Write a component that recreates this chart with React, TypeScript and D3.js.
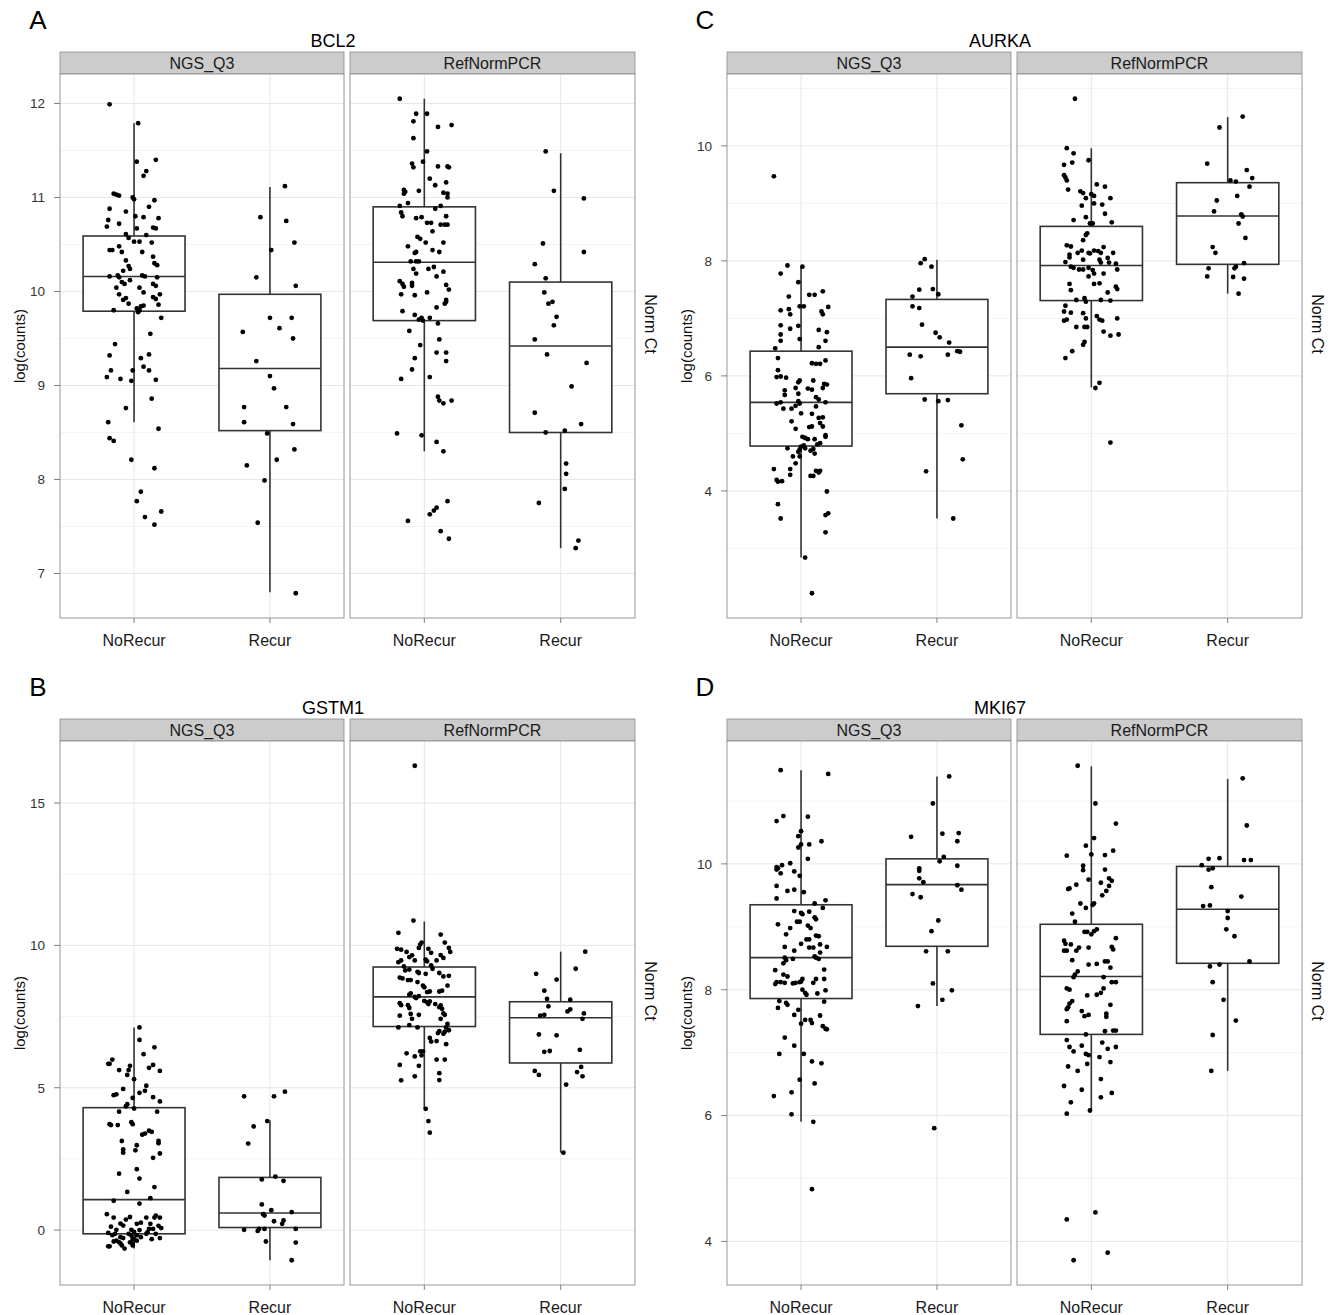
import React from 'react';
import * as d3 from 'd3';

type Pt = [number, number]; // [jitter offset in category units, value]

const groups = ['NoRecur', 'Recur'];
const facetNames = ['NGS_Q3', 'RefNormPCR'];

// ---------- BCL2 (A) ----------
const bcl2Ticks = [7, 8, 9, 10, 11, 12];
const bcl2NgsNoRecur: Pt[] = [
  [-0.18, 11.99], [0.03, 11.79], [0.02, 11.38], [0.16, 11.4], [0.09, 11.28], [0.07, 11.23], [-0.15, 11.04], [-0.13, 11.03],
  [-0.11, 11.02], [-0.01, 11.0], [0.0, 10.98], [-0.18, 10.88], [0.11, 10.9], [0.15, 10.97], [-0.06, 10.85], [-0.19, 10.76],
  [-0.2, 10.69], [0.01, 10.8], [0.07, 10.79], [0.18, 10.78], [-0.11, 10.72], [0.14, 10.68], [0.16, 10.67], [-0.06, 10.61],
  [-0.04, 10.57], [0.02, 10.67], [0.09, 10.6], [0.0, 10.53], [0.04, 10.53], [0.13, 10.52], [-0.18, 10.44], [-0.16, 10.44],
  [-0.11, 10.48], [-0.09, 10.42], [0.06, 10.42], [0.14, 10.37], [0.15, 10.3], [0.17, 10.28], [-0.06, 10.33], [-0.04, 10.27],
  [-0.03, 10.24], [-0.08, 10.22], [-0.18, 10.16], [-0.12, 10.17], [-0.11, 10.15], [-0.09, 10.1], [-0.07, 10.08], [-0.03, 10.12],
  [0.06, 10.17], [0.08, 10.16], [0.17, 10.15], [-0.13, 10.04], [0.04, 10.04], [0.14, 10.08], [0.16, 10.06], [-0.11, 9.97],
  [0.07, 9.99], [-0.06, 9.93], [-0.08, 9.91], [0.14, 9.94], [0.16, 9.92], [0.19, 9.97], [0.18, 9.86], [-0.04, 9.87],
  [0.02, 9.82], [0.04, 9.8], [0.05, 9.84], [0.07, 9.85], [0.03, 9.78], [-0.15, 9.8], [0.2, 9.72], [0.12, 9.55],
  [-0.14, 9.44], [-0.18, 9.32], [0.11, 9.33], [0.05, 9.29], [0.07, 9.2], [-0.17, 9.16], [-0.01, 9.16], [0.11, 9.16],
  [-0.2, 9.09], [-0.1, 9.07], [-0.02, 9.05], [0.16, 9.06], [-0.06, 8.76], [0.13, 8.86], [-0.19, 8.61], [0.18, 8.54],
  [-0.18, 8.44], [-0.15, 8.41], [-0.02, 8.21], [0.15, 8.12], [0.05, 7.87], [0.02, 7.77], [0.08, 7.6], [0.2, 7.66], [0.15, 7.52],
];
const bcl2NgsRecur: Pt[] = [
  [0.11, 11.12], [-0.07, 10.79], [0.12, 10.75], [0.01, 10.44], [0.18, 10.52], [0.19, 10.06], [-0.1, 10.15], [0.0, 9.72],
  [0.16, 9.72], [0.07, 9.61], [-0.2, 9.57], [0.17, 9.5], [-0.1, 9.26], [0.0, 9.1], [0.03, 8.97], [-0.19, 8.77],
  [0.12, 8.77], [-0.19, 8.61], [0.17, 8.59], [-0.02, 8.49], [0.18, 8.32], [0.05, 8.21], [-0.17, 8.15], [-0.04, 7.99],
  [-0.09, 7.54], [0.19, 6.79],
];
const bcl2RefNoRecur: Pt[] = [
  [-0.18, 12.05], [-0.06, 11.89], [0.02, 11.89], [-0.08, 11.81], [0.1, 11.75], [0.2, 11.77], [-0.08, 11.63], [0.02, 11.49],
  [-0.09, 11.36], [-0.08, 11.32], [-0.01, 11.38], [0.1, 11.33], [0.17, 11.33], [0.18, 11.32], [0.04, 11.2], [0.08, 11.13],
  [0.16, 11.16], [-0.04, 11.07], [-0.15, 11.08], [-0.14, 11.06], [-0.15, 11.04], [0.14, 11.05], [0.17, 11.04], [0.17, 11.0],
  [-0.12, 10.94], [-0.18, 10.91], [0.12, 10.91], [0.08, 10.88], [-0.17, 10.84], [-0.16, 10.8], [-0.06, 10.78], [-0.02, 10.79],
  [0.16, 10.8], [0.02, 10.73], [0.05, 10.73], [0.12, 10.71], [0.15, 10.71], [0.17, 10.71], [0.06, 10.64], [-0.05, 10.58],
  [-0.03, 10.56], [0.01, 10.52], [0.14, 10.52], [-0.12, 10.48], [-0.07, 10.41], [-0.06, 10.42], [0.06, 10.44], [0.11, 10.42],
  [-0.1, 10.32], [-0.06, 10.32], [-0.04, 10.32], [0.07, 10.26], [-0.08, 10.24], [-0.06, 10.19], [0.03, 10.24], [0.09, 10.16],
  [0.14, 10.21], [-0.18, 10.11], [-0.16, 10.08], [-0.15, 10.05], [-0.09, 10.09], [-0.09, 10.06], [0.16, 10.07], [-0.17, 9.97],
  [0.18, 10.02], [-0.07, 9.96], [0.02, 9.99], [0.16, 9.91], [0.15, 9.87], [0.16, 9.89], [0.09, 9.83], [-0.16, 9.79],
  [-0.07, 9.75], [-0.04, 9.7], [-0.01, 9.69], [-0.02, 9.72], [0.04, 9.72], [0.1, 9.66], [-0.11, 9.58], [0.11, 9.49],
  [-0.03, 9.43], [0.09, 9.35], [0.16, 9.35], [-0.07, 9.29], [0.16, 9.26], [-0.09, 9.17], [0.04, 9.09], [-0.17, 9.07],
  [0.1, 8.88], [0.11, 8.84], [0.14, 8.81], [0.2, 8.84], [-0.2, 8.49], [-0.02, 8.47], [0.09, 8.4], [0.14, 8.3],
  [0.17, 7.77], [0.09, 7.7], [0.07, 7.67], [0.04, 7.63], [-0.12, 7.56], [0.12, 7.45], [0.18, 7.37],
];
const bcl2RefRecur: Pt[] = [
  [-0.11, 11.49], [-0.05, 11.07], [0.17, 10.99], [-0.13, 10.51], [0.17, 10.42], [-0.19, 10.29], [-0.11, 10.14], [-0.12, 9.99],
  [-0.09, 9.87], [-0.06, 9.89], [-0.03, 9.73], [-0.05, 9.64], [-0.19, 9.49], [-0.1, 9.33], [0.19, 9.24], [0.08, 8.99],
  [-0.19, 8.71], [0.15, 8.59], [-0.11, 8.5], [0.03, 8.52], [0.04, 8.17], [0.04, 8.06], [0.03, 7.9], [-0.16, 7.75],
  [0.13, 7.35], [0.11, 7.27],
];
// [lower whisker, Q1, median, Q3, upper whisker]
const bcl2Boxes = [
  [8.61, 9.79, 10.16, 10.59, 11.79], [6.8, 8.52, 9.18, 9.97, 11.11],
  [8.3, 9.69, 10.31, 10.9, 12.05], [7.27, 8.5, 9.42, 10.1, 11.47],
];

// ---------- AURKA (C) ----------
const aurkaTicks = [4, 6, 8, 10];
const aurkaNgsNoRecur: Pt[] = [
  [-0.2, 9.47], [-0.1, 7.92], [0.01, 7.9], [-0.15, 7.78], [-0.02, 7.63], [-0.09, 7.38], [-0.15, 7.14], [0.06, 7.41],
  [0.1, 7.41], [0.16, 7.47], [-0.01, 7.21], [0.02, 7.21], [-0.09, 7.16], [-0.08, 7.07], [0.2, 7.2], [0.15, 7.12],
  [0.16, 7.07], [-0.15, 6.88], [-0.02, 6.87], [-0.08, 6.82], [0.13, 6.8], [0.19, 6.76], [-0.15, 6.72], [-0.15, 6.61],
  [-0.01, 6.64], [0.18, 6.61], [0.13, 6.5], [-0.19, 6.48], [-0.17, 6.31], [0.18, 6.27], [0.08, 6.22], [0.11, 6.21],
  [0.14, 6.21], [-0.17, 6.1], [-0.18, 5.98], [-0.15, 5.99], [-0.11, 5.97], [-0.01, 5.92], [-0.02, 5.89], [0.09, 5.92],
  [0.17, 5.86], [0.19, 5.85], [0.16, 5.79], [-0.04, 5.79], [0.05, 5.78], [0.08, 5.76], [-0.12, 5.75], [-0.12, 5.67],
  [-0.02, 5.69], [0.11, 5.63], [0.13, 5.59], [-0.18, 5.52], [-0.15, 5.54], [-0.01, 5.52], [-0.02, 5.56], [0.18, 5.54],
  [-0.13, 5.43], [-0.04, 5.48], [-0.07, 5.43], [0.11, 5.47], [0.0, 5.35], [0.08, 5.34], [-0.07, 5.21], [0.13, 5.27],
  [0.16, 5.28], [0.14, 5.18], [-0.04, 5.08], [0.06, 5.11], [0.08, 5.12], [0.16, 5.12], [0.01, 4.94], [0.03, 4.92],
  [0.05, 4.9], [0.1, 4.9], [0.18, 4.97], [0.18, 4.94], [0.12, 4.81], [0.14, 4.83], [0.0, 4.77], [0.02, 4.79],
  [-0.01, 4.72], [-0.1, 4.74], [0.03, 4.74], [0.07, 4.7], [0.09, 4.73], [-0.02, 4.68], [-0.06, 4.6], [-0.01, 4.6],
  [0.1, 4.65], [-0.04, 4.48], [-0.2, 4.38], [-0.08, 4.38], [-0.08, 4.28], [0.11, 4.35], [0.13, 4.32], [0.14, 4.35],
  [0.07, 4.26], [0.09, 4.26], [-0.18, 4.19], [-0.17, 4.16], [-0.14, 4.17], [0.19, 3.99], [-0.17, 3.77], [-0.15, 3.52],
  [0.18, 3.58], [0.2, 3.61], [0.18, 3.28], [0.03, 2.84], [0.08, 2.22],
];
const aurkaNgsRecur: Pt[] = [
  [-0.09, 8.03], [-0.12, 7.96], [-0.04, 7.9], [-0.13, 7.5], [-0.03, 7.51], [0.01, 7.42], [-0.18, 7.38], [-0.18, 7.21],
  [-0.13, 7.18], [-0.11, 6.89], [-0.01, 6.75], [0.02, 6.67], [0.09, 6.58], [-0.2, 6.37], [-0.12, 6.34], [0.08, 6.37],
  [0.15, 6.43], [0.17, 6.42], [-0.19, 5.96], [-0.09, 5.59], [0.01, 5.56], [0.08, 5.58], [0.18, 5.14], [0.19, 4.55],
  [-0.08, 4.34], [0.12, 3.52],
];
const aurkaRefNoRecur: Pt[] = [
  [-0.12, 10.82], [-0.18, 9.96], [-0.13, 9.87], [-0.2, 9.67], [-0.2, 9.49], [-0.19, 9.45], [-0.18, 9.4], [-0.14, 9.71],
  [-0.02, 9.75], [-0.17, 9.24], [-0.08, 9.21], [-0.06, 9.18], [0.04, 9.33], [0.1, 9.29], [0.0, 9.16], [0.02, 9.13],
  [0.02, 9.0], [-0.04, 9.09], [0.14, 9.09], [0.08, 8.98], [-0.07, 8.96], [0.1, 8.82], [-0.13, 8.71], [-0.04, 8.76],
  [-0.01, 8.65], [0.01, 8.65], [0.15, 8.67], [-0.03, 8.48], [-0.04, 8.45], [-0.06, 8.36], [-0.18, 8.27], [-0.15, 8.25],
  [-0.16, 8.11], [-0.16, 8.06], [-0.1, 8.14], [-0.07, 8.18], [-0.02, 8.14], [-0.01, 8.13], [0.02, 8.18], [0.05, 8.17],
  [0.07, 8.14], [0.09, 8.24], [0.16, 8.14], [-0.19, 7.98], [-0.06, 8.02], [0.06, 8.02], [0.07, 7.97], [0.12, 8.05],
  [0.13, 7.97], [0.18, 7.95], [0.19, 7.85], [-0.15, 7.9], [-0.13, 7.88], [-0.09, 7.85], [-0.06, 7.85], [-0.02, 7.88],
  [0.01, 7.84], [0.02, 7.78], [0.09, 7.78], [-0.02, 7.73], [0.02, 7.6], [0.06, 7.61], [0.18, 7.55], [0.19, 7.51],
  [-0.16, 7.6], [-0.15, 7.49], [0.12, 7.45], [-0.11, 7.32], [-0.05, 7.35], [-0.04, 7.29], [0.07, 7.32], [0.14, 7.31],
  [-0.19, 7.22], [-0.2, 7.12], [-0.06, 7.09], [-0.15, 7.1], [-0.18, 6.98], [-0.2, 6.96], [0.04, 7.04], [0.06, 6.98],
  [0.08, 6.96], [-0.04, 7.0], [0.19, 7.0], [-0.11, 6.85], [-0.05, 6.85], [-0.03, 6.85], [0.09, 6.77], [0.14, 6.7],
  [0.2, 6.72], [-0.05, 6.59], [-0.06, 6.54], [-0.14, 6.43], [-0.19, 6.31], [0.06, 5.88], [0.03, 5.79], [0.14, 4.84],
];
const aurkaRefRecur: Pt[] = [
  [0.11, 10.51], [-0.06, 10.32], [-0.15, 9.69], [0.14, 9.58], [0.18, 9.44], [0.02, 9.4], [0.06, 9.38], [0.16, 9.29],
  [0.07, 9.13], [-0.08, 9.05], [-0.1, 8.86], [0.1, 8.81], [0.11, 8.77], [0.08, 8.65], [0.13, 8.4], [-0.11, 8.24],
  [-0.09, 8.14], [0.12, 7.96], [0.06, 7.9], [0.05, 7.87], [-0.14, 7.87], [-0.15, 7.73], [0.04, 7.72], [0.12, 7.69],
  [0.08, 7.43],
];
const aurkaBoxes = [
  [2.84, 4.78, 5.54, 6.43, 7.9], [3.52, 5.69, 6.5, 7.33, 8.02],
  [5.8, 7.31, 7.92, 8.6, 9.96], [7.43, 7.94, 8.78, 9.36, 10.5],
];

// ---------- GSTM1 (B) ----------
const gstm1Ticks = [0, 5, 10, 15];
const gstm1NgsNoRecur: Pt[] = [
  [0.04, 7.12], [0.04, 6.68], [0.15, 6.42], [0.07, 6.18], [-0.16, 5.99], [-0.18, 5.84], [-0.19, 5.84], [0.14, 5.8],
  [-0.11, 5.62], [-0.03, 5.77], [-0.04, 5.62], [0.11, 5.7], [0.19, 5.59], [-0.05, 5.45], [0.0, 5.3], [-0.08, 4.96],
  [0.09, 5.07], [-0.15, 4.74], [-0.13, 4.77], [0.04, 4.82], [0.08, 4.89], [-0.01, 4.64], [0.14, 4.67], [-0.05, 4.42],
  [-0.06, 4.35], [0.0, 4.27], [0.19, 4.52], [-0.11, 4.16], [0.17, 4.16], [-0.18, 3.72], [-0.17, 3.69], [-0.12, 3.69],
  [-0.02, 3.79], [-0.01, 3.72], [0.11, 3.49], [0.13, 3.45], [0.06, 3.35], [0.08, 3.39], [-0.09, 3.13], [0.18, 3.13],
  [0.18, 3.05], [0.02, 2.98], [-0.08, 2.83], [-0.08, 2.72], [0.01, 2.8], [0.19, 2.69], [0.14, 2.54], [0.02, 2.14],
  [-0.11, 1.98], [0.04, 1.81], [0.15, 1.51], [-0.05, 1.34], [0.12, 1.12], [-0.15, 1.03], [0.04, 0.93], [-0.2, 0.56],
  [-0.15, 0.44], [-0.03, 0.46], [-0.06, 0.37], [0.09, 0.44], [0.15, 0.44], [0.16, 0.51], [0.19, 0.44], [-0.1, 0.23],
  [-0.08, 0.16], [0.02, 0.22], [0.05, 0.26], [0.12, 0.22], [-0.17, 0.12], [-0.13, 0.01], [0.18, 0.15], [0.2, 0.07],
  [0.11, 0.04], [0.14, 0.04], [-0.02, 0.01], [0.0, -0.06], [0.04, 0.0], [-0.19, -0.1], [-0.16, -0.18], [-0.14, -0.13],
  [-0.04, -0.13], [-0.02, -0.19], [0.02, -0.18], [0.09, -0.13], [0.1, -0.07], [0.16, -0.13], [-0.1, -0.25], [-0.08, -0.28],
  [-0.01, -0.32], [0.0, -0.32], [0.05, -0.25], [0.19, -0.28], [-0.15, -0.4], [-0.13, -0.37], [-0.11, -0.43], [-0.03, -0.43],
  [-0.01, -0.48], [0.02, -0.37], [0.13, -0.32], [-0.19, -0.57], [-0.18, -0.57], [-0.1, -0.47], [-0.09, -0.54], [-0.07, -0.65],
  [-0.01, -0.54],
];
const gstm1NgsRecur: Pt[] = [
  [0.11, 4.86], [-0.19, 4.7], [0.03, 4.7], [-0.02, 3.83], [-0.12, 3.64], [-0.16, 3.04], [0.04, 1.88], [-0.06, 1.78],
  [0.1, 1.73], [-0.06, 0.9], [0.01, 0.7], [0.16, 0.63], [-0.05, 0.56], [-0.04, 0.51], [0.03, 0.31], [0.1, 0.34],
  [0.09, 0.22], [-0.19, 0.01], [-0.09, -0.03], [-0.08, 0.04], [-0.04, 0.04], [0.19, 0.04], [-0.03, -0.4], [0.19, -0.44],
  [0.16, -1.06],
];
const gstm1RefNoRecur: Pt[] = [
  [-0.07, 16.31], [-0.08, 10.87], [-0.19, 10.44], [0.12, 10.38], [0.15, 10.1], [-0.02, 10.1], [-0.03, 10.03], [-0.04, 9.91],
  [0.18, 9.91], [0.19, 9.77], [-0.2, 9.88], [-0.17, 9.85], [-0.13, 9.77], [0.03, 9.88], [0.05, 9.74], [0.12, 9.66],
  [0.14, 9.56], [-0.11, 9.59], [-0.09, 9.65], [-0.17, 9.47], [-0.19, 9.41], [0.01, 9.5], [0.02, 9.44], [-0.07, 9.47],
  [0.09, 9.47], [-0.15, 9.26], [-0.14, 9.12], [0.05, 9.3], [0.06, 9.18], [-0.11, 9.15], [-0.05, 9.07], [-0.04, 9.03],
  [0.01, 9.0], [0.11, 9.03], [0.18, 8.93], [0.14, 8.91], [-0.18, 8.87], [-0.16, 8.84], [-0.12, 8.78], [-0.1, 8.78],
  [-0.05, 8.71], [-0.01, 8.59], [0.0, 8.53], [0.17, 8.59], [0.04, 8.38], [0.02, 8.36], [0.11, 8.38], [0.13, 8.41],
  [-0.11, 8.27], [-0.1, 8.31], [-0.07, 8.19], [-0.06, 8.15], [-0.04, 8.22], [0.0, 8.05], [0.02, 8.0], [0.04, 8.03],
  [0.03, 7.94], [0.08, 7.94], [0.11, 7.83], [0.12, 7.89], [0.13, 7.77], [-0.18, 7.97], [-0.17, 7.9], [-0.12, 7.9],
  [-0.11, 7.8], [-0.1, 7.59], [-0.18, 7.53], [-0.04, 7.56], [0.14, 7.61], [0.15, 7.56], [0.12, 7.42], [-0.09, 7.42],
  [-0.19, 7.12], [-0.11, 7.2], [-0.05, 7.12], [0.17, 7.24], [0.16, 7.12], [0.18, 7.02], [0.15, 6.97], [0.14, 6.9],
  [0.11, 6.99], [0.1, 6.92], [0.04, 6.75], [0.05, 6.62], [0.09, 6.64], [0.16, 6.53], [-0.01, 6.28], [-0.13, 6.21],
  [-0.03, 6.28], [-0.02, 6.14], [-0.07, 6.1], [0.09, 5.99], [0.15, 5.99], [-0.18, 5.8], [-0.04, 5.77], [0.11, 5.51],
  [-0.07, 5.4], [-0.17, 5.26], [0.11, 5.27], [0.01, 4.26], [0.03, 3.83], [0.04, 3.42],
];
const gstm1RefRecur: Pt[] = [
  [0.18, 9.78], [-0.18, 9.0], [0.11, 9.18], [-0.03, 8.8], [-0.12, 8.41], [-0.1, 8.12], [0.07, 8.09], [-0.09, 7.86],
  [0.05, 7.68], [0.07, 7.75], [-0.15, 7.53], [-0.12, 7.56], [0.17, 7.61], [0.16, 7.42], [-0.16, 6.87], [-0.03, 6.84],
  [-0.12, 6.26], [-0.08, 6.29], [0.14, 6.33], [-0.19, 5.59], [-0.16, 5.45], [0.15, 5.73], [0.12, 5.55], [0.16, 5.4],
  [0.04, 5.11], [0.02, 2.72],
];
const gstm1Boxes = [
  [-0.65, -0.13, 1.07, 4.3, 7.12], [-1.06, 0.09, 0.6, 1.85, 3.86],
  [4.27, 7.15, 8.19, 9.24, 10.84], [2.72, 5.87, 7.46, 8.02, 9.78],
];

// ---------- MKI67 (D) ----------
const mki67Ticks = [4, 6, 8, 10];
const mki67NgsNoRecur: Pt[] = [
  [-0.15, 11.49], [0.2, 11.43], [-0.13, 10.76], [-0.18, 10.68], [0.05, 10.75], [0.0, 10.52], [-0.02, 10.44], [-0.02, 10.26],
  [0.0, 10.31], [0.06, 10.31], [0.15, 10.36], [0.05, 10.08], [-0.18, 9.95], [-0.17, 9.93], [-0.18, 9.91], [-0.14, 9.98],
  [-0.08, 10.01], [-0.05, 9.88], [-0.15, 9.85], [-0.01, 9.81], [-0.18, 9.65], [-0.1, 9.57], [-0.05, 9.59], [0.02, 9.55],
  [-0.18, 9.45], [0.1, 9.37], [0.18, 9.42], [0.16, 9.3], [-0.05, 9.25], [0.0, 9.22], [0.01, 9.2], [0.06, 9.24],
  [0.1, 9.15], [0.11, 9.12], [-0.03, 9.08], [-0.01, 9.08], [-0.17, 9.04], [-0.08, 8.98], [0.05, 9.02], [0.07, 8.98],
  [-0.11, 8.88], [0.11, 8.86], [0.13, 8.85], [0.04, 8.8], [0.06, 8.8], [0.0, 8.73], [0.14, 8.72], [-0.12, 8.68],
  [0.06, 8.67], [0.09, 8.67], [0.19, 8.68], [-0.05, 8.62], [0.14, 8.59], [0.11, 8.51], [0.13, 8.49], [0.1, 8.53],
  [-0.12, 8.51], [-0.11, 8.47], [-0.06, 8.49], [-0.13, 8.42], [-0.19, 8.31], [0.17, 8.32], [-0.13, 8.24], [-0.1, 8.21],
  [0.11, 8.17], [0.01, 8.17], [0.17, 8.17], [-0.18, 8.12], [-0.19, 8.09], [-0.15, 8.12], [-0.12, 8.11], [-0.06, 8.1],
  [-0.04, 8.11], [-0.01, 8.12], [0.0, 8.13], [0.09, 8.11], [0.01, 8.0], [0.03, 7.95], [0.04, 7.92], [0.12, 7.94],
  [0.18, 7.99], [-0.16, 7.82], [-0.11, 7.79], [-0.1, 7.76], [0.17, 7.81], [-0.17, 7.71], [-0.02, 7.68], [-0.05, 7.6],
  [0.14, 7.59], [0.03, 7.52], [0.07, 7.52], [0.08, 7.47], [0.0, 7.46], [0.16, 7.42], [0.18, 7.38], [0.19, 7.37],
  [-0.12, 7.24], [-0.05, 7.11], [-0.16, 6.98], [0.02, 6.98], [0.08, 6.86], [0.15, 6.83], [-0.01, 6.57], [0.1, 6.51],
  [-0.07, 6.37], [-0.2, 6.31], [-0.07, 6.02], [0.09, 5.9], [0.08, 4.83],
];
const mki67NgsRecur: Pt[] = [
  [0.09, 11.39], [-0.03, 10.96], [-0.19, 10.43], [0.04, 10.48], [0.16, 10.49], [0.15, 10.36], [0.05, 10.11], [0.02, 10.04],
  [0.15, 9.97], [-0.13, 9.93], [-0.13, 9.89], [-0.13, 9.77], [-0.1, 9.71], [0.15, 9.66], [0.18, 9.59], [-0.18, 9.52],
  [-0.12, 9.47], [0.01, 9.1], [-0.04, 8.93], [-0.08, 8.61], [0.08, 8.61], [-0.03, 8.1], [0.11, 7.99], [0.04, 7.84],
  [-0.14, 7.74], [-0.02, 5.8],
];
const mki67RefNoRecur: Pt[] = [
  [-0.1, 11.56], [0.03, 10.96], [0.18, 10.64], [0.02, 10.41], [-0.04, 10.29], [-0.18, 10.13], [0.0, 10.15], [0.1, 10.14],
  [0.16, 10.21], [-0.06, 9.97], [-0.06, 9.9], [0.1, 9.91], [-0.02, 9.75], [0.07, 9.7], [0.13, 9.77], [0.15, 9.73],
  [0.13, 9.65], [0.11, 9.57], [-0.16, 9.61], [-0.17, 9.6], [-0.11, 9.67], [0.08, 9.5], [-0.08, 9.37], [-0.04, 9.3],
  [0.01, 9.35], [0.02, 9.37], [-0.14, 9.21], [-0.12, 9.08], [-0.05, 8.92], [-0.03, 8.92], [0.0, 8.88], [0.02, 8.93],
  [0.04, 8.96], [0.18, 8.82], [-0.2, 8.78], [-0.19, 8.73], [-0.15, 8.72], [-0.09, 8.67], [-0.02, 8.67], [0.15, 8.68],
  [0.16, 8.64], [-0.2, 8.62], [-0.18, 8.62], [-0.11, 8.62], [-0.14, 8.47], [-0.02, 8.4], [0.04, 8.41], [0.1, 8.45],
  [0.12, 8.45], [0.14, 8.35], [-0.1, 8.29], [-0.12, 8.24], [-0.13, 8.2], [0.09, 8.2], [0.15, 8.12], [0.18, 8.12],
  [-0.18, 8.02], [-0.16, 8.0], [0.09, 8.02], [0.07, 7.95], [-0.03, 7.91], [0.04, 7.92], [-0.14, 7.82], [-0.16, 7.78],
  [-0.17, 7.72], [-0.18, 7.69], [0.14, 7.76], [-0.07, 7.66], [-0.05, 7.58], [-0.02, 7.6], [0.11, 7.62], [0.11, 7.57],
  [-0.18, 7.5], [0.1, 7.34], [0.16, 7.35], [0.18, 7.35], [-0.04, 7.29], [-0.18, 7.2], [-0.16, 7.09], [-0.13, 7.02],
  [-0.07, 7.11], [-0.04, 6.98], [-0.02, 6.96], [0.08, 7.16], [0.12, 7.06], [0.18, 7.09], [0.06, 6.93], [0.14, 6.85],
  [-0.03, 6.82], [-0.17, 6.78], [-0.1, 6.71], [0.07, 6.58], [-0.2, 6.47], [-0.07, 6.41], [0.15, 6.36], [0.07, 6.29],
  [-0.15, 6.21], [-0.01, 6.08], [-0.18, 6.03], [0.03, 4.46], [-0.18, 4.35], [0.12, 3.82], [-0.13, 3.7],
];
const mki67RefRecur: Pt[] = [
  [0.11, 11.36], [0.14, 10.61], [-0.19, 9.98], [-0.14, 10.08], [-0.06, 10.09], [0.12, 10.06], [0.17, 10.06], [-0.14, 9.91],
  [-0.11, 9.93], [-0.12, 9.63], [0.1, 9.48], [-0.18, 9.33], [-0.13, 9.34], [0.0, 9.25], [0.0, 9.14], [-0.01, 8.96],
  [0.05, 8.85], [0.16, 8.45], [-0.13, 8.37], [-0.06, 8.4], [-0.11, 8.12], [-0.03, 7.84], [0.06, 7.51], [-0.11, 7.28],
  [-0.12, 6.71],
];
const mki67Boxes = [
  [5.9, 7.86, 8.51, 9.35, 11.49], [7.74, 8.69, 9.67, 10.08, 11.39],
  [6.08, 7.29, 8.21, 9.04, 11.55], [6.71, 8.42, 9.28, 9.96, 11.35],
];

const panels = [
  { letter: 'A', gene: 'BCL2', col: 0, row: 0, ticks: bcl2Ticks, boxes: bcl2Boxes,
    points: [[bcl2NgsNoRecur, bcl2NgsRecur], [bcl2RefNoRecur, bcl2RefRecur]] },
  { letter: 'C', gene: 'AURKA', col: 1, row: 0, ticks: aurkaTicks, boxes: aurkaBoxes,
    points: [[aurkaNgsNoRecur, aurkaNgsRecur], [aurkaRefNoRecur, aurkaRefRecur]] },
  { letter: 'B', gene: 'GSTM1', col: 0, row: 1, ticks: gstm1Ticks, boxes: gstm1Boxes,
    points: [[gstm1NgsNoRecur, gstm1NgsRecur], [gstm1RefNoRecur, gstm1RefRecur]] },
  { letter: 'D', gene: 'MKI67', col: 1, row: 1, ticks: mki67Ticks, boxes: mki67Boxes,
    points: [[mki67NgsNoRecur, mki67NgsRecur], [mki67RefNoRecur, mki67RefRecur]] },
];

const FONT = '"Liberation Sans", Arial, Helvetica, sans-serif';
const CELL = 667;
const facetX: [number, number][] = [[60, 344], [350, 635]];
const stripTop = 52;
const plotTop = 74;
const plotBottom = 618;
const boxHalf = 0.375;

function Panel({ p }: { p: typeof panels[number] }) {
  const ox = p.col * CELL;
  const oy = p.row * CELL;
  const vals: number[] = [];
  p.points.forEach(f => f.forEach(g => g.forEach(d => vals.push(d[1]))));
  p.boxes.forEach(b => vals.push(b[0], b[4]));
  const [mn, mx] = d3.extent(vals) as [number, number];
  const pad = (mx - mn) * 0.05;
  const y = d3.scaleLinear().domain([mn - pad, mx + pad]).range([plotBottom, plotTop]);
  const step = p.ticks[1] - p.ticks[0];
  const minors = [...p.ticks.map(t => t - step / 2), p.ticks[p.ticks.length - 1] + step / 2]
    .filter(v => v > y.domain()[0] && v < y.domain()[1]);
  const midY = (plotTop + plotBottom) / 2;

  return (
    <g transform={`translate(${ox},${oy})`} fontFamily={FONT}>
      <text x={38} y={29} fontSize={26} textAnchor="middle" fill="#000">{p.letter}</text>
      <text x={333} y={47} fontSize={18} textAnchor="middle" fill="#000">{p.gene}</text>
      <text transform={`translate(19,${midY}) rotate(-90)`} fontSize={15} textAnchor="middle" dominantBaseline="central" fill="#111">log(counts)</text>
      <text transform={`translate(650,324) rotate(90)`} fontSize={16} textAnchor="middle" dominantBaseline="central" fill="#111">Norm Ct</text>
      {p.ticks.map(t => (
        <g key={'yt' + t}>
          <line x1={facetX[0][0] - 6} x2={facetX[0][0]} y1={y(t)} y2={y(t)} stroke="#7f7f7f" />
          <text x={facetX[0][0] - 15} y={y(t)} dy="0.36em" fontSize={13.5} textAnchor="end" fill="#333">{t}</text>
        </g>
      ))}
      {facetX.map(([x0, x1], fi) => {
        const x = d3.scaleLinear().domain([0.455, 2.545]).range([x0, x1]);
        return (
          <g key={fi}>
            <rect x={x0} y={stripTop} width={x1 - x0} height={plotTop - stripTop} fill="#cccccc" stroke="#8c8c8c" strokeWidth={0.8} />
            <text x={(x0 + x1) / 2} y={(stripTop + plotTop) / 2} dy="0.37em" fontSize={16} textAnchor="middle" fill="#1a1a1a">{facetNames[fi]}</text>
            <rect x={x0} y={plotTop} width={x1 - x0} height={plotBottom - plotTop} fill="#fff" />
            {minors.map(v => (
              <line key={'mi' + v} x1={x0} x2={x1} y1={y(v)} y2={y(v)} stroke="#f4f4f4" strokeWidth={1} />
            ))}
            {p.ticks.map(v => (
              <line key={'ma' + v} x1={x0} x2={x1} y1={y(v)} y2={y(v)} stroke="#e6e6e6" strokeWidth={1} />
            ))}
            {groups.map((g, gi) => (
              <line key={'vg' + g} x1={x(gi + 1)} x2={x(gi + 1)} y1={plotTop} y2={plotBottom} stroke="#e6e6e6" strokeWidth={1} />
            ))}
            {groups.map((g, gi) => {
              const b = p.boxes[fi * 2 + gi];
              const cx = x(gi + 1);
              const bl = x(gi + 1 - boxHalf);
              const br = x(gi + 1 + boxHalf);
              return (
                <g key={'box' + g} stroke="#333" strokeWidth={1.6} fill="none">
                  <line x1={cx} x2={cx} y1={y(b[0])} y2={y(b[1])} />
                  <line x1={cx} x2={cx} y1={y(b[3])} y2={y(b[4])} />
                  <rect x={bl} y={y(b[3])} width={br - bl} height={y(b[1]) - y(b[3])} fill="#fff" />
                  <line x1={bl} x2={br} y1={y(b[2])} y2={y(b[2])} />
                </g>
              );
            })}
            {groups.map((g, gi) =>
              p.points[fi][gi].map((d, i) => (
                <circle key={g + i} cx={x(gi + 1 + d[0])} cy={y(d[1])} r={2.4} fill="#000" />
              ))
            )}
            <rect x={x0} y={plotTop} width={x1 - x0} height={plotBottom - plotTop} fill="none" stroke="#8c8c8c" strokeWidth={0.9} />
            {groups.map((g, gi) => (
              <g key={'xt' + g}>
                <line x1={x(gi + 1)} x2={x(gi + 1)} y1={plotBottom} y2={plotBottom + 5} stroke="#7f7f7f" />
                <text x={x(gi + 1)} y={646} fontSize={16} textAnchor="middle" fill="#1a1a1a">{g}</text>
              </g>
            ))}
          </g>
        );
      })}
    </g>
  );
}

export default function App() {
  return (
    <svg width={1334} height={1315} style={{ position: 'absolute', left: 0, top: 0, background: '#fff' }}>
      <rect width={1334} height={1315} fill="#fff" />
      {panels.map(p => <Panel key={p.letter} p={p} />)}
    </svg>
  );
}
